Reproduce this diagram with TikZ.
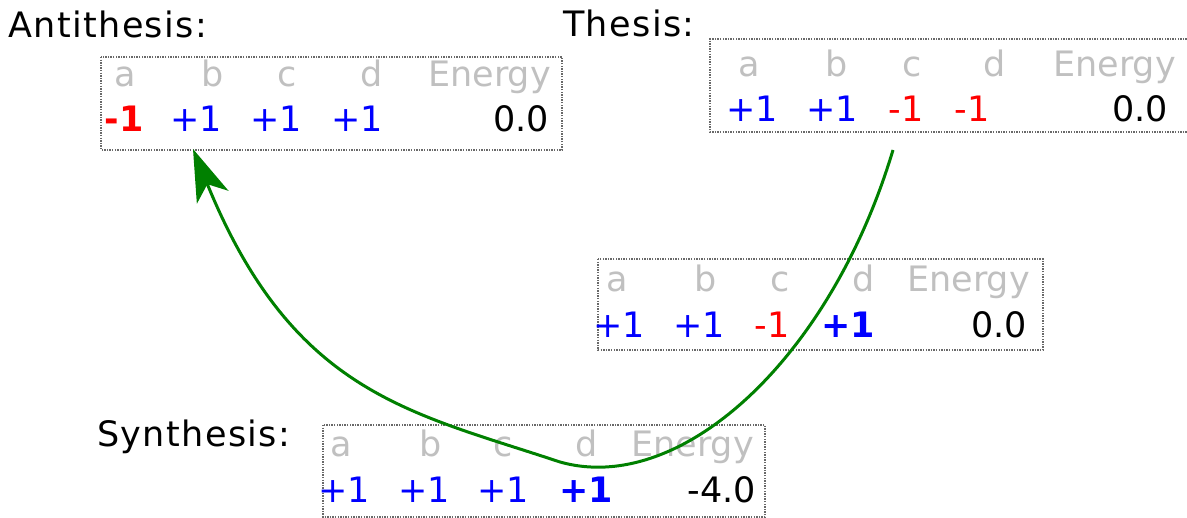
\documentclass[tikz,border=0pt]{standalone}
\usepackage{fontspec}
\setmainfont{DejaVu Sans}
\usetikzlibrary{arrows.meta}
\definecolor{hdrgray}{RGB}{192,192,192}
\definecolor{boxgray}{RGB}{105,105,105}
\definecolor{flowgreen}{RGB}{0,128,0}
\tikzset{
  >=Stealth,
  frame/.style={draw=boxgray, line width=1.4pt, dash pattern=on 1.4pt off 1.2pt},
  cell/.style={anchor=base east, inner sep=0pt, font=\fontsize{35}{42}\selectfont},
  hdr/.style={cell, text=hdrgray},
  title/.style={anchor=base west, inner sep=0pt, font=\fontsize{35}{42}\selectfont\addfontfeature{LetterSpace=4}},
  flow/.style={draw=flowgreen, line width=3pt}
}
\begin{document}
\begin{tikzpicture}[x=1pt, y=-1pt]
    \useasboundingbox (0,0) rectangle (1187,518);

    % Antithesis
    \node[title] (anti-lbl) at (8,38) {Antithesis:};
    \draw[frame] (101,57) rectangle (562,150);
    \foreach \t/\x [count=\i] in {a/136, b/224, c/297, d/383, Energy/551}
        \node[hdr] (anti-h\i) at (\x,87) {\t};
    \foreach \c/\t/\x [count=\i] in {red/\textbf{-1}/144, blue/+1/222, blue/+1/302, blue/+1/383, black/0.0/549}
        \node[cell, text=\c] (anti-v\i) at (\x,132) {\t};

    % Thesis
    \node[title] (thesis-lbl) at (563,37) {Thesis:};
    \draw[frame] (1192,39) -| (710,132) -- (1192,132);
    \foreach \t/\x [count=\i] in {a/760, b/848, c/922, d/1006, Energy/1176}
        \node[hdr] (thesis-h\i) at (\x,77) {\t};
    \foreach \c/\t/\x [count=\i] in {blue/+1/778, blue/+1/858, red/-1/924, red/-1/990, black/0.0/1168}
        \node[cell, text=\c] (thesis-v\i) at (\x,122) {\t};

    % Intermediate state
    \draw[frame] (598,259) rectangle (1043,350);
    \foreach \t/\x [count=\i] in {a/628, b/717, c/790, d/875, Energy/1030}
        \node[hdr] (mid-h\i) at (\x,292) {\t};
    \foreach \c/\t/\x [count=\i] in {blue/+1/645, blue/+1/725, red/-1/790, blue/\textbf{+1}/875, black/0.0/1027}
        \node[cell, text=\c] (mid-v\i) at (\x,338) {\t};

    % Synthesis
    \node[title] (syn-lbl) at (97,447) {Synthesis:};
    \draw[frame] (323,425) rectangle (765,517);
    \foreach \t/\x [count=\i] in {a/352, b/442, c/513, d/598, Energy/754}
        \node[hdr] (syn-h\i) at (\x,457) {\t};
    \foreach \c/\t/\x [count=\i] in {blue/+1/370, blue/+1/450, blue/+1/529, blue/\textbf{+1}/613, black/-4.0/756}
        \node[cell, text=\c] (syn-v\i) at (\x,503) {\t};

    % Flow thesis -> synthesis -> antithesis
    \coordinate (thesis-out) at (893,150);
    \coordinate (syn-in) at (560,462);
    \coordinate (anti-in) at (193,149);
    \draw[flow, -{Stealth[length=52pt, width=34pt, inset=14pt]}]
        (thesis-out) .. controls (830,360) and (680,496) .. (syn-in)
        .. controls (410,412) and (293,394) .. (anti-in);

\end{tikzpicture}
\end{document}
